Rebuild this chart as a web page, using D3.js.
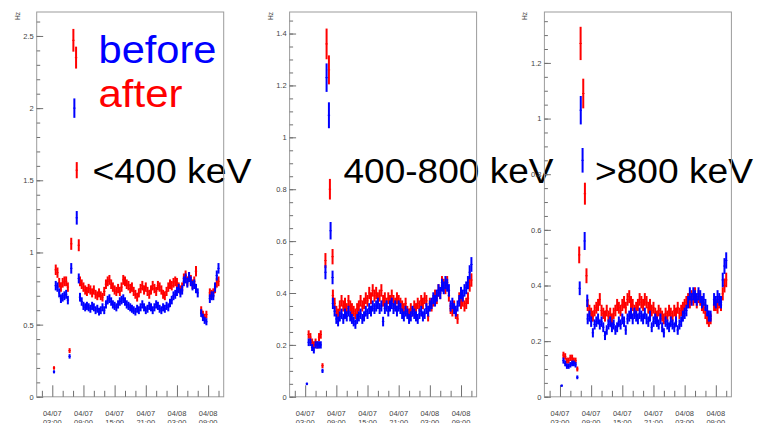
<!DOCTYPE html>
<html><head><meta charset="utf-8">
<script src="https://cdn.jsdelivr.net/npm/d3@7"></script>
<style>body{margin:0;background:#fff}svg{display:block}</style>
</head><body>
<svg id="c" width="760" height="423"></svg>
<script>
// ---------- data ----------
const legendLabels = ["before", "after"];
const bandLabels = ["<400 keV", "400-800 keV", ">800 keV"];
const majorTickHours = [3, 9, 15, 21, 27, 33];
const tickDates = ["04/07", "04/07", "04/07", "04/07", "04/08", "04/08"];
const tickClock = ["03:00", "09:00", "15:00", "21:00", "03:00", "09:00"];
const minorTickHours = [1, 5, 7, 11, 13, 17, 19, 23, 25, 29, 31, 35];
const yAxisUnit = "Hz";
// samples every 20 min, first sample at 03:20 (hours since 04/07 00:00)
const firstSampleHour = 10 / 3;
const sampleStepHour = 1 / 3;

const lowBefore = [0.173,
 0.77,0.76,0.72,0.68,0.69,0.70,0.71,0.67, 0.28, null,null,null,null,null,
 0.69,0.66,0.63,0.62,0.63,0.62,0.61,0.63,0.62,0.60,
 0.61,0.59,0.60,0.62,0.60,0.64,0.67,0.68,0.66,0.64,
 0.63,0.62,0.64,0.66,0.67,0.68,0.66,0.64,0.63,0.62,
 0.61,0.60,0.59,0.61,0.60,0.62,0.64,0.62,0.60,0.61,
 0.63,0.62,0.60,0.62,0.64,0.63,0.61,0.60,0.62,0.61,
 0.63,0.62,0.65,0.67,0.70,0.71,0.73,0.75,0.72,0.74,
 0.80,0.82,0.79,0.83,0.80,0.77,0.78,0.75,0.72,null,
 0.58,0.55,0.53,0.52,null,0.68,0.70,0.70,0.76,0.84,0.89];
const lowAfter = [0.20,
 0.88,0.86,0.79,0.76,0.79,0.80,0.80,0.76, 0.32, null,null,null,null,null,
 0.80,0.78,0.76,0.74,0.73,0.75,0.74,0.72,0.74,0.71,
 0.70,0.72,0.70,0.69,0.73,0.78,0.80,0.81,0.78,0.76,
 0.74,0.73,0.75,0.73,0.76,0.81,0.80,0.78,0.77,0.75,
 0.76,0.73,0.71,0.69,0.72,0.75,0.77,0.74,0.76,0.73,
 0.71,0.74,0.77,0.75,0.73,0.77,0.76,0.74,0.71,0.70,
 0.73,0.76,0.78,0.77,0.79,0.80,0.79,0.76,0.74,0.76,
 0.82,0.84,0.80,0.83,0.81,0.78,0.80,0.87,null,null,
 0.60,0.57,0.55,0.57,null,0.72,0.71,0.72,0.75,0.79,0.80];
const lowBeforeSpike = [[6.65,0.89],[7.25,2.0],[7.71,1.24],[8.1,0.82]];
const lowAfterSpike = [[6.65,1.06],[7.06,2.47],[7.58,2.35],[7.71,1.57],[8.1,1.05]];

const midBefore = [0.05,
 0.21,0.21,0.19,0.18,0.20,0.20,0.20,0.20, 0.10, null,null,null,null,null,
 0.36,0.33,0.30,0.29,0.31,0.32,0.30,0.32,0.31,0.33,
 0.31,0.30,0.29,0.28,0.30,0.31,0.32,0.30,0.31,0.33,
 0.32,0.34,0.33,0.35,0.34,0.35,0.36,0.34,0.35,0.29,
 0.34,0.35,0.33,0.35,0.36,0.34,0.35,0.33,0.35,0.34,
 0.32,0.31,0.33,0.32,0.30,0.31,0.33,0.32,0.31,0.30,
 0.32,0.33,0.31,0.32,0.34,0.33,0.35,0.36,0.38,0.37,
 0.39,0.41,0.40,0.43,0.42,0.44,0.43,0.41,0.35,0.36,
 0.34,0.33,0.35,0.37,0.40,0.39,0.41,0.42,0.44,0.48,0.51];
const midAfter = [null,
 0.24,0.23,0.21,0.20,0.21,0.20,0.23,0.24, 0.12, null,null,null,null,null,
 0.39,0.36,0.33,0.32,0.35,0.37,0.35,0.36,0.34,0.37,
 0.35,0.34,0.33,0.32,0.34,0.35,0.37,0.35,0.36,0.38,
 0.37,0.40,0.38,0.41,0.39,0.40,0.38,0.39,0.41,0.37,
 0.38,0.36,0.38,0.37,0.39,0.37,0.36,0.38,0.37,0.36,
 0.35,0.34,0.36,0.33,0.32,0.34,0.33,0.35,0.34,0.36,
 0.35,0.37,0.36,0.38,0.37,0.31,0.36,0.35,0.37,0.39,
 0.38,0.41,0.40,0.44,0.43,0.42,0.44,0.39,0.34,0.33,
 0.35,0.32,0.30,0.38,0.36,0.37,0.35,0.36,0.38,0.43,0.45];
const midBeforeSpike = [[6.9,0.48],[7.12,1.23],[7.57,1.085],[7.89,0.64],[8.27,0.46]];
const midAfterSpike = [[6.9,0.525],[7.12,1.36],[7.57,1.26],[7.76,0.80],[8.27,0.54]];

const highBefore = [0.04,
 0.13,0.12,0.11,0.11,0.115,0.12,0.12,0.115, 0.07, null,null,null,null,null,
 0.28,0.29,0.27,0.23,0.26,0.27,0.28,0.26,0.27,0.25,
 0.22,0.24,0.26,0.27,0.25,0.26,0.24,0.25,0.27,0.26,
 0.28,0.27,0.24,0.28,0.29,0.30,0.28,0.30,0.29,0.28,
 0.30,0.29,0.28,0.30,0.28,0.27,0.29,0.25,0.27,0.28,
 0.27,0.26,0.28,0.25,0.23,0.27,0.26,0.25,0.27,0.26,
 0.25,0.27,0.24,0.26,0.27,0.29,0.30,0.31,0.34,0.37,
 0.35,0.37,0.36,0.35,0.37,0.36,0.34,0.35,0.33,0.31,
 0.29,0.29,null,0.35,0.34,0.36,0.35,0.34,0.42,0.47,0.49];
const highAfter = [null,
 0.15,0.145,0.13,0.13,0.14,0.14,0.13,0.13, 0.10, null,null,null,null,null,
 0.33,0.31,0.30,0.29,0.31,0.32,0.33,0.35,0.31,0.30,
 0.29,0.31,0.29,0.30,0.28,0.30,0.31,0.33,0.32,0.31,
 0.33,0.34,0.32,0.35,0.36,0.34,0.33,0.31,0.32,0.33,
 0.35,0.34,0.33,0.35,0.34,0.32,0.33,0.31,0.32,0.30,
 0.29,0.31,0.30,0.29,0.28,0.30,0.29,0.31,0.30,0.29,
 0.31,0.30,0.32,0.30,0.31,0.32,0.33,0.34,0.35,0.34,
 0.36,0.35,0.37,0.34,0.36,0.35,0.33,0.32,0.30,0.28,
 0.27,0.28,null,0.33,0.33,0.32,0.34,0.33,0.37,0.40,0.42];
const highBeforeSpike = [[6.8,0.39],[7.0,1.03],[7.35,0.85],[7.75,0.56],[8.25,0.345]];
const highAfterSpike = [[6.7,0.51],[6.97,1.27],[7.48,1.09],[7.8,0.73],[8.1,0.435]];

// ---------- layout ----------
const svg = d3.select("#c");
const plotTop = 12, plotBottom = 396.8, plotWidth = 187;
const BLUE = "#0000ff", RED = "#ff0000";
const tickFont = "'Liberation Sans', Arial, sans-serif";

function toPoints(arr, extra) {
  const pts = [];
  arr.forEach((v, j) => { if (v != null) pts.push([firstSampleHour + j * sampleStepHour, v]); });
  return pts.concat(extra).sort((a, b) => a[0] - b[0]);
}

const panels = [
  {left: 36.7, yMax: 2.666, major: d3.range(0, 2.51, 0.5), minor: d3.range(0, 2.61, 0.1), errK: 0.04,
   before: toPoints(lowBefore, lowBeforeSpike), after: toPoints(lowAfter, lowAfterSpike)},
  {left: 289.6, yMax: 1.483, major: d3.range(0, 1.41, 0.2), minor: d3.range(0, 1.46, 0.05), errK: 0.047,
   before: toPoints(midBefore, midBeforeSpike), after: toPoints(midAfter, midAfterSpike)},
  {left: 544.4, yMax: 1.383, major: d3.range(0, 1.21, 0.2), minor: d3.range(0, 1.36, 0.05), errK: 0.05,
   before: toPoints(highBefore, highBeforeSpike), after: toPoints(highAfter, highAfterSpike)}
];

// ---------- overlay text (drawn beneath the charts) ----------
const bigFont = "'Liberation Sans', Arial, sans-serif";
svg.append("text").attr("x", 98.5).attr("y", 62.7).attr("font-family", bigFont).attr("font-size", 38)
  .attr("fill", BLUE).attr("textLength", 118).attr("lengthAdjust", "spacingAndGlyphs").text(legendLabels[0]);
svg.append("text").attr("x", 98.5).attr("y", 107).attr("font-family", bigFont).attr("font-size", 38)
  .attr("fill", RED).attr("textLength", 84).attr("lengthAdjust", "spacingAndGlyphs").text(legendLabels[1]);
const bandX = [92.5, 343.5, 595];
const bandW = [159, 210, 158];
bandLabels.forEach((t, i) => {
  svg.append("text").attr("x", bandX[i]).attr("y", 182.5).attr("font-family", bigFont).attr("font-size", 35)
    .attr("fill", "#000").attr("textLength", bandW[i]).attr("lengthAdjust", "spacingAndGlyphs").text(t);
});

// ---------- panels ----------
panels.forEach(p => {
  const g = svg.append("g");
  const x = d3.scaleLinear().domain([0, 36]).range([p.left, p.left + plotWidth]);
  const y = d3.scaleLinear().domain([0, p.yMax]).range([plotBottom, plotTop]);

  // frame
  g.append("rect").attr("x", p.left).attr("y", plotTop).attr("width", plotWidth)
    .attr("height", plotBottom - plotTop).attr("fill", "none").attr("stroke", "#9c9c9c").attr("stroke-width", 1);

  // y axis minor + major
  const yMinor = g.append("g").attr("transform", `translate(${p.left},0)`)
    .call(d3.axisLeft(y).tickValues(p.minor).tickSize(-3.5).tickFormat(""));
  const yMajor = g.append("g").attr("transform", `translate(${p.left},0)`)
    .call(d3.axisLeft(y).tickValues(p.major).tickSize(-6.5).tickPadding(3).tickFormat(d3.format("~g")));
  [yMinor, yMajor].forEach(a => { a.select(".domain").remove(); a.selectAll("line").attr("stroke", "#707070"); });
  yMajor.selectAll("text").attr("font-family", tickFont).attr("font-size", 7.5).attr("fill", "#444");

  // x axis
  const xMinor = g.append("g").attr("transform", `translate(0,${plotBottom})`)
    .call(d3.axisBottom(x).tickValues(minorTickHours).tickSize(-6).tickFormat(""));
  const xMajor = g.append("g").attr("transform", `translate(0,${plotBottom})`)
    .call(d3.axisBottom(x).tickValues(majorTickHours).tickSize(-11.5).tickFormat(""));
  [xMinor, xMajor].forEach(a => { a.select(".domain").remove(); a.selectAll("line").attr("stroke", "#707070"); });
  majorTickHours.forEach((h, i) => {
    const t = g.append("text").attr("x", x(h)).attr("text-anchor", "middle")
      .attr("font-family", tickFont).attr("font-size", 7.5).attr("fill", "#444");
    t.append("tspan").attr("x", x(h)).attr("y", 416).text(tickDates[i]);
    t.append("tspan").attr("x", x(h)).attr("y", 425).text(tickClock[i]);
  });

  // unit label
  g.append("text").attr("transform", `translate(${p.left - 17},16) rotate(-90)`)
    .attr("text-anchor", "middle").attr("font-family", tickFont).attr("font-size", 6.5)
    .attr("fill", "#444").text(yAxisUnit);

  // data with error bars
  const err = v => p.errK * Math.pow(v, 0.75);
  [[p.after, RED], [p.before, BLUE]].forEach(([pts, col]) => {
    const s = g.append("g");
    s.selectAll("line.e").data(pts).join("line").attr("class", "e")
      .attr("x1", d => x(d[0])).attr("x2", d => x(d[0]))
      .attr("y1", d => y(d[1] - err(d[1]))).attr("y2", d => y(d[1] + err(d[1])))
      .attr("stroke", col).attr("stroke-width", 2);
    s.selectAll("line.m").data(pts).join("line").attr("class", "m")
      .attr("x1", d => x(d[0]) - 1.2).attr("x2", d => x(d[0]) + 1.2)
      .attr("y1", d => y(d[1])).attr("y2", d => y(d[1]))
      .attr("stroke", col).attr("stroke-width", 1);
  });
});
</script>
</body></html>
